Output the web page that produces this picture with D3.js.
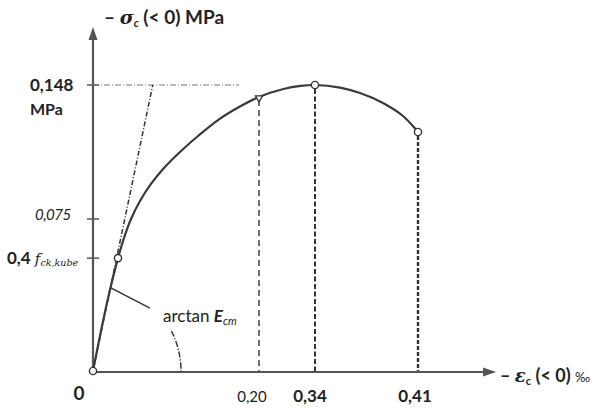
<!DOCTYPE html>
<html><head><meta charset="utf-8">
<script src="https://cdn.jsdelivr.net/npm/d3@7"></script>
<style>
html,body{margin:0;padding:0;background:#fff;}
svg{display:block;}
text{font-family:Lato,"Open Sans",sans-serif;fill:#222;}
</style></head>
<body>
<script>
// ---- data ----
const strain = [0, 0.0096, 0.0193, 0.0301, 0.0373, 0.0458, 0.0566, 0.0699, 0.0855, 0.1048, 0.1265, 0.1506, 0.1759, 0.20, 0.2611, 0.3044, 0.34, 0.3570, 0.3706, 0.3862, 0.3998, 0.41];
const stress = [0, 0.0197, 0.0380, 0.0557, 0.0656, 0.0750, 0.0848, 0.0941, 0.1028, 0.1115, 0.1202, 0.1289, 0.1360, 0.1415, 0.1458, 0.1475, 0.148, 0.1466, 0.1436, 0.1382, 0.1311, 0.1224];
const xTicks = [0.20, 0.34, 0.41];
const xTickLabels = ["0,20", "0,34", "0,41"];
const yTicks = [0.148, 0.075, 0.0557];
const markedStrain = [0, 0.0301, 0.34, 0.41];
const markedStress = [0, 0.0557, 0.148, 0.1224];
const tangentStrain = [0, 0.072];
const tangentStress = [0, 0.148];
const peakLineEnd = 0.176;

const W = 607, H = 410;
const svg = d3.select("body").append("svg").attr("width", W).attr("height", H);

// schematic (not-to-scale) axes: piecewise linear scales
const x = d3.scaleLinear().domain([0, 0.20, 0.34, 0.41]).range([93, 259, 315, 418]);
const y = d3.scaleLinear().domain([0, 0.075, 0.148]).range([371, 219, 85]);

const axisColor = "#555";
const lineColor = "#3a3a3a";

// axes
svg.append("line").attr("x1", x(0)).attr("y1", y(0)).attr("x2", x(0)).attr("y2", 36)
  .attr("stroke", axisColor).attr("stroke-width", 2.2);
svg.append("path").attr("d", d3.line()([[x(0), 27], [x(0) - 4.5, 40], [x(0) + 4.5, 40]]) + "Z").attr("fill", axisColor);
svg.append("line").attr("x1", x(0)).attr("y1", y(0) + 1).attr("x2", 486).attr("y2", y(0) + 1)
  .attr("stroke", axisColor).attr("stroke-width", 2);
svg.append("path").attr("d", d3.line()([[496, y(0) + 1], [483, y(0) - 3.5], [483, y(0) + 5.5]]) + "Z").attr("fill", axisColor);

// y ticks
svg.selectAll(".yt").data(yTicks).join("line")
  .attr("x1", x(0) - 6).attr("x2", x(0) + 6)
  .attr("y1", d => y(d)).attr("y2", d => y(d))
  .attr("stroke", axisColor).attr("stroke-width", 1.5);

// peak horizontal dash-dot line
svg.append("line").attr("x1", x(0)).attr("x2", x(peakLineEnd))
  .attr("y1", y(0.148)).attr("y2", y(0.148))
  .attr("stroke", "#777").attr("stroke-width", 1).attr("stroke-dasharray", "6,2,1,2");

// tangent line
svg.append("line")
  .attr("x1", x(tangentStrain[0])).attr("y1", y(tangentStress[0]))
  .attr("x2", x(tangentStrain[1])).attr("y2", y(tangentStress[1]))
  .attr("stroke", "#333").attr("stroke-width", 1.5).attr("stroke-dasharray", "5,2,1,2");

// vertical dashed lines
const vIdx = [13, 16, 21];
const dashes = ["6,4", "5,2.5", "4,2"];
const widths = [1.4, 2, 2.4];
vIdx.forEach((i, k) => {
  svg.append("line").attr("x1", x(strain[i])).attr("x2", x(strain[i]))
    .attr("y1", y(stress[i]) + (k === 0 ? 3 : 4)).attr("y2", y(0))
    .attr("stroke", "#333").attr("stroke-width", widths[k]).attr("stroke-dasharray", dashes[k]);
});

// curve
const pts = strain.map((s, i) => [x(s), y(stress[i])]);
svg.append("path").attr("d", d3.line().curve(d3.curveCatmullRom.alpha(0.5))(pts))
  .attr("fill", "none").attr("stroke", lineColor).attr("stroke-width", 2.2);

// small marker at 0.20
svg.append("path").attr("d", d3.symbol(d3.symbolTriangle, 22)())
  .attr("transform", `translate(${x(strain[13])},${y(stress[13]) + 1}) rotate(180)`)
  .attr("fill", "#fff").attr("stroke", "#333").attr("stroke-width", 1.3);

// marked points
svg.selectAll(".pt").data(markedStrain).join("circle")
  .attr("cx", d => x(d)).attr("cy", (d, i) => y(markedStress[i]))
  .attr("r", 3.6).attr("fill", "#fff").attr("stroke", "#333").attr("stroke-width", 1.4);

// arctan annotation: leader + angle arc
svg.append("line").attr("x1", x(0.0215)).attr("y1", y(0.041))
  .attr("x2", x(0.0686)).attr("y2", y(0.031))
  .attr("stroke", "#333").attr("stroke-width", 1.5);
svg.append("path")
  .attr("d", d3.arc().innerRadius(88).outerRadius(88).startAngle(Math.PI / 2 - 0.47).endAngle(Math.PI / 2)())
  .attr("transform", `translate(${x(0)},${y(0)})`)
  .attr("fill", "none").attr("stroke", "#333").attr("stroke-width", 1.4).attr("stroke-dasharray", "6,2,1,2");

const ann = svg.append("text").attr("x", 163).attr("y", 322).attr("font-size", 17);
ann.append("tspan").text("arctan ");
ann.append("tspan").attr("font-style", "italic").attr("font-weight", "bold").text("E");
ann.append("tspan").attr("font-style", "italic").attr("font-size", 11).attr("dy", 3).text("cm");

// x tick labels
const xlDx = [-7, -5, -3];
const xlSize = [15, 17, 17];
const xlWeight = ["normal", "bold", "bold"];
svg.selectAll(".xl").data(xTicks).join("text")
  .attr("x", (d, i) => x(d) + xlDx[i]).attr("y", 402)
  .attr("text-anchor", "middle")
  .attr("font-size", (d, i) => xlSize[i]).attr("font-weight", (d, i) => xlWeight[i])
  .text((d, i) => xTickLabels[i]);
svg.append("text").attr("x", 79).attr("y", 400).attr("text-anchor", "middle")
  .attr("font-size", 19).attr("font-weight", "bold").text("0");

// y tick labels
svg.append("text").attr("x", 30).attr("y", y(0.148) + 6).attr("font-size", 17).attr("font-weight", "bold").text("0,148");
svg.append("text").attr("x", 30).attr("y", y(0.148) + 30).attr("font-size", 16).attr("font-weight", "bold").text("MPa");
svg.append("text").attr("x", 35).attr("y", y(0.075) + 1).attr("font-size", 15).attr("font-style", "italic").attr("letter-spacing", -0.5).text("0,075");
const fl = svg.append("text").attr("x", 7).attr("y", y(0.0557) + 6).attr("font-size", 17).attr("font-weight", "bold");
fl.append("tspan").text("0,4 ");
fl.append("tspan").attr("font-family", "'DejaVu Serif',serif").attr("font-style", "italic").attr("font-weight", "normal").attr("font-size", 15).text("f");
fl.append("tspan").attr("font-family", "'DejaVu Serif',serif").attr("font-style", "italic").attr("font-weight", "normal").attr("font-size", 9.5).attr("dy", 2).text("ck,kube");

// axis titles
const yt = svg.append("text").attr("x", 104).attr("y", 24).attr("font-size", 19).attr("font-weight", "bold");
yt.append("tspan").text("– ");
yt.append("tspan").attr("font-family", "'DejaVu Serif',serif").attr("font-style", "italic").text("σ");
yt.append("tspan").attr("font-size", 11).attr("dy", 3).attr("font-style", "italic").text("c");
yt.append("tspan").attr("dy", -3).text(" (< 0) MPa");

const xt = svg.append("text").attr("x", 500).attr("y", 382).attr("font-size", 18).attr("font-weight", "bold");
xt.append("tspan").text("– ");
xt.append("tspan").attr("font-family", "'DejaVu Serif',serif").attr("font-style", "italic").text("ε");
xt.append("tspan").attr("font-size", 11).attr("dy", 3).text("c");
xt.append("tspan").attr("dy", -3).text(" (< 0) ");
xt.append("tspan").attr("font-size", 13).attr("font-weight", "normal").text("‰");
</script>
</body></html>
